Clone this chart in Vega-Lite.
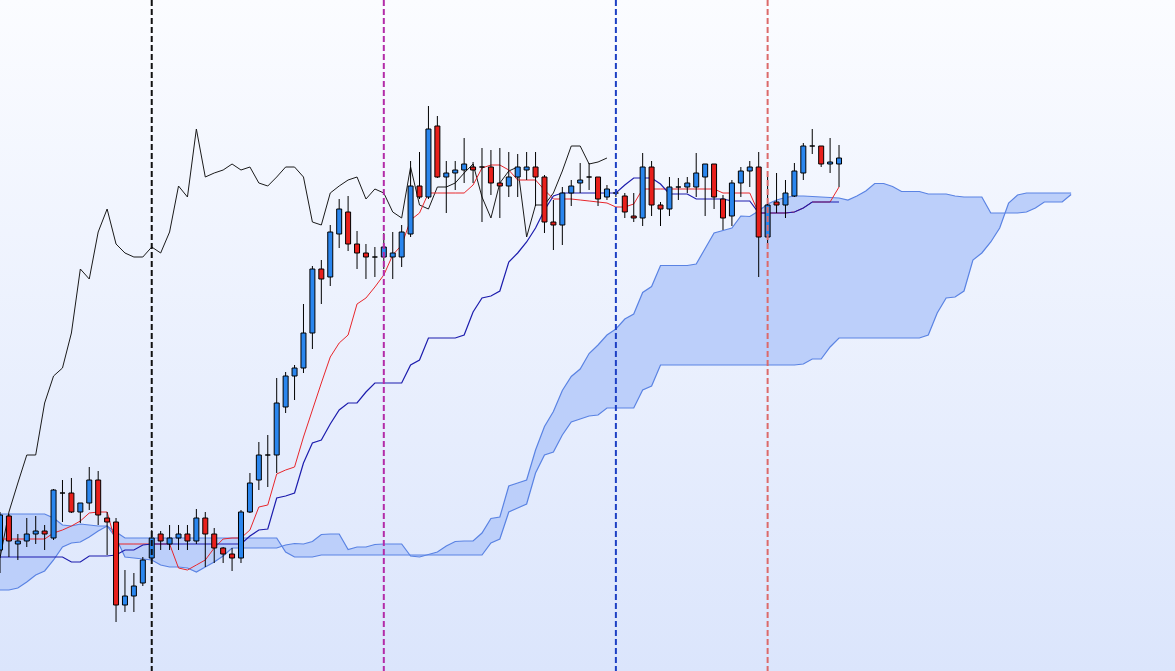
{
  "$schema": "https://vega.github.io/schema/vega-lite/v6.json",
  "width": 1175,
  "height": 671,
  "padding": 0,
  "autosize": {"type": "fit", "contains": "padding"},
  "config": {"view": {"stroke": null}},
  "datasets": {
    "candles": [
      {"i":0,"o":121,"h":159,"l":98,"c":156,"t":132,"k":114},
      {"i":1,"o":155,"h":157,"l":114,"c":130,"t":132,"k":114},
      {"i":2,"o":127,"h":137,"l":111,"c":130,"t":132,"k":114},
      {"i":3,"o":130,"h":153,"l":124,"c":137,"t":132,"k":114},
      {"i":4,"o":137,"h":155,"l":127,"c":140,"t":132,"k":114},
      {"i":5,"o":140,"h":146,"l":121,"c":137,"t":132,"k":114},
      {"i":6,"o":133,"h":182,"l":131,"c":181,"t":138,"k":114},
      {"i":7,"o":178,"h":191,"l":149,"c":178,"t":141,"k":114},
      {"i":8,"o":178,"h":193,"l":158,"c":159,"t":145,"k":109},
      {"i":9,"o":159,"h":168,"l":148,"c":168,"t":150,"k":109},
      {"i":10,"o":168,"h":204,"l":161,"c":191,"t":158,"k":115},
      {"i":11,"o":191,"h":200,"l":146,"c":156,"t":159,"k":115},
      {"i":12,"o":153,"h":159,"l":116,"c":149,"t":159,"k":115},
      {"i":13,"o":149,"h":153,"l":49,"c":66,"t":127,"k":116},
      {"i":14,"o":66,"h":101,"l":59,"c":75,"t":127,"k":121},
      {"i":15,"o":75,"h":98,"l":59,"c":85,"t":127,"k":121},
      {"i":16,"o":88,"h":114,"l":85,"c":111,"t":127,"k":126},
      {"i":17,"o":113,"h":141,"l":111,"c":133,"t":127,"k":127},
      {"i":18,"o":137,"h":140,"l":121,"c":130,"t":127,"k":127},
      {"i":19,"o":127,"h":146,"l":121,"c":133,"t":127,"k":127},
      {"i":20,"o":133,"h":146,"l":121,"c":137,"t":103,"k":127},
      {"i":21,"o":137,"h":146,"l":121,"c":130,"t":101,"k":127},
      {"i":22,"o":130,"h":162,"l":127,"c":153,"t":106,"k":127},
      {"i":23,"o":153,"h":159,"l":104,"c":137,"t":111,"k":127},
      {"i":24,"o":137,"h":143,"l":108,"c":123,"t":123,"k":127},
      {"i":25,"o":123,"h":124,"l":108,"c":117,"t":132,"k":127},
      {"i":26,"o":117,"h":123,"l":100,"c":113,"t":133,"k":127},
      {"i":27,"o":113,"h":161,"l":108,"c":159,"t":133,"k":127},
      {"i":28,"o":159,"h":198,"l":158,"c":188,"t":141,"k":135},
      {"i":29,"o":191,"h":229,"l":181,"c":216,"t":164,"k":141},
      {"i":30,"o":216,"h":236,"l":184,"c":216,"t":166,"k":142},
      {"i":31,"o":216,"h":293,"l":198,"c":268,"t":197,"k":173},
      {"i":32,"o":264,"h":299,"l":258,"c":295,"t":201,"k":175},
      {"i":33,"o":295,"h":306,"l":271,"c":303,"t":204,"k":178},
      {"i":34,"o":303,"h":367,"l":298,"c":338,"t":234,"k":208},
      {"i":35,"o":338,"h":405,"l":322,"c":402,"t":261,"k":228},
      {"i":36,"o":402,"h":411,"l":367,"c":392,"t":288,"k":231},
      {"i":37,"o":394,"h":446,"l":385,"c":439,"t":314,"k":247},
      {"i":38,"o":437,"h":472,"l":423,"c":462,"t":328,"k":261},
      {"i":39,"o":459,"h":475,"l":420,"c":427,"t":336,"k":268},
      {"i":40,"o":427,"h":440,"l":402,"c":418,"t":367,"k":268},
      {"i":41,"o":418,"h":427,"l":392,"c":414,"t":373,"k":279},
      {"i":42,"o":414,"h":424,"l":394,"c":414,"t":384,"k":288},
      {"i":43,"o":414,"h":438,"l":402,"c":424,"t":396,"k":288},
      {"i":44,"o":414,"h":439,"l":392,"c":418,"t":416,"k":288},
      {"i":45,"o":414,"h":446,"l":404,"c":439,"t":426,"k":288},
      {"i":46,"o":437,"h":510,"l":434,"c":485,"t":451,"k":306},
      {"i":47,"o":485,"h":519,"l":472,"c":474,"t":458,"k":311},
      {"i":48,"o":474,"h":565,"l":472,"c":542,"t":478,"k":333},
      {"i":49,"o":545,"h":555,"l":493,"c":494,"t":478,"k":333},
      {"i":50,"o":494,"h":510,"l":458,"c":498,"t":478,"k":333},
      {"i":51,"o":498,"h":510,"l":481,"c":501,"t":478,"k":333},
      {"i":52,"o":501,"h":533,"l":488,"c":507,"t":478,"k":336},
      {"i":53,"o":504,"h":509,"l":488,"c":501,"t":486,"k":359},
      {"i":54,"o":504,"h":523,"l":449,"c":504,"t":503,"k":373},
      {"i":55,"o":504,"h":521,"l":476,"c":488,"t":506,"k":375},
      {"i":56,"o":488,"h":523,"l":453,"c":485,"t":506,"k":380},
      {"i":57,"o":485,"h":519,"l":474,"c":494,"t":501,"k":409},
      {"i":58,"o":494,"h":517,"l":474,"c":504,"t":491,"k":418},
      {"i":59,"o":501,"h":519,"l":491,"c":504,"t":491,"k":429},
      {"i":60,"o":504,"h":519,"l":465,"c":494,"t":491,"k":443},
      {"i":61,"o":494,"h":496,"l":438,"c":449,"t":481,"k":461},
      {"i":62,"o":449,"h":471,"l":421,"c":446,"t":472,"k":475},
      {"i":63,"o":446,"h":484,"l":426,"c":478,"t":472,"k":478},
      {"i":64,"o":478,"h":491,"l":465,"c":485,"t":472,"k":478},
      {"i":65,"o":488,"h":508,"l":478,"c":491,"t":471,"k":478},
      {"i":66,"o":494,"h":508,"l":481,"c":494,"t":470,"k":478},
      {"i":67,"o":494,"h":494,"l":465,"c":472,"t":469,"k":478},
      {"i":68,"o":474,"h":486,"l":471,"c":482,"t":468,"k":478},
      {"i":69,"o":478,"h":482,"l":474,"c":478,"t":464,"k":478},
      {"i":70,"o":475,"h":478,"l":453,"c":459,"t":464,"k":486},
      {"i":71,"o":455,"h":478,"l":449,"c":453,"t":467,"k":493},
      {"i":72,"o":453,"h":518,"l":445,"c":504,"t":482,"k":493},
      {"i":73,"o":504,"h":510,"l":455,"c":466,"t":482,"k":493},
      {"i":74,"o":466,"h":469,"l":445,"c":462,"t":482,"k":487},
      {"i":75,"o":462,"h":494,"l":455,"c":484,"t":482,"k":477},
      {"i":76,"o":484,"h":493,"l":471,"c":484,"t":482,"k":477},
      {"i":77,"o":484,"h":494,"l":478,"c":488,"t":482,"k":477},
      {"i":78,"o":484,"h":518,"l":474,"c":498,"t":482,"k":472},
      {"i":79,"o":494,"h":507,"l":455,"c":507,"t":482,"k":472},
      {"i":80,"o":507,"h":507,"l":462,"c":474,"t":482,"k":472},
      {"i":81,"o":472,"h":476,"l":441,"c":453,"t":478,"k":472},
      {"i":82,"o":455,"h":491,"l":445,"c":488,"t":478,"k":470},
      {"i":83,"o":488,"h":504,"l":474,"c":500,"t":478,"k":470},
      {"i":84,"o":500,"h":510,"l":484,"c":504,"t":478,"k":470},
      {"i":85,"o":504,"h":519,"l":394,"c":434,"t":458,"k":458},
      {"i":86,"o":434,"h":494,"l":426,"c":466,"t":458,"k":458},
      {"i":87,"o":469,"h":498,"l":458,"c":466,"t":458,"k":458},
      {"i":88,"o":466,"h":491,"l":453,"c":478,"t":458,"k":458},
      {"i":89,"o":475,"h":508,"l":474,"c":500,"t":459,"k":459},
      {"i":90,"o":498,"h":528,"l":491,"c":525,"t":463,"k":463},
      {"i":91,"o":525,"h":542,"l":517,"c":525,"t":469,"k":469},
      {"i":92,"o":525,"h":525,"l":504,"c":507,"t":469,"k":469},
      {"i":93,"o":507,"h":533,"l":498,"c":509,"t":469,"k":469},
      {"i":94,"o":507,"h":526,"l":484,"c":513,"t":484,"k":469}
    ],
    "chikou": [
      {"i":0,"v":113},{"i":1,"v":159},{"i":2,"v":188},{"i":3,"v":216},{"i":4,"v":216},
      {"i":5,"v":268},{"i":6,"v":295},{"i":7,"v":303},{"i":8,"v":338},{"i":9,"v":402},
      {"i":10,"v":392},{"i":11,"v":439},{"i":12,"v":462},{"i":13,"v":427},{"i":14,"v":418},
      {"i":15,"v":414},{"i":16,"v":414},{"i":17,"v":424},{"i":18,"v":418},{"i":19,"v":439},
      {"i":20,"v":485},{"i":21,"v":474},{"i":22,"v":542},{"i":23,"v":494},{"i":24,"v":498},
      {"i":25,"v":501},{"i":26,"v":507},{"i":27,"v":501},{"i":28,"v":504},{"i":29,"v":488},
      {"i":30,"v":485},{"i":31,"v":494},{"i":32,"v":504},{"i":33,"v":504},{"i":34,"v":494},
      {"i":35,"v":449},{"i":36,"v":446},{"i":37,"v":478},{"i":38,"v":485},{"i":39,"v":491},
      {"i":40,"v":494},{"i":41,"v":472},{"i":42,"v":482},{"i":43,"v":478},{"i":44,"v":459},
      {"i":45,"v":453},{"i":46,"v":504},{"i":47,"v":466},{"i":48,"v":462},{"i":49,"v":484},
      {"i":50,"v":484},{"i":51,"v":488},{"i":52,"v":498},{"i":53,"v":507},{"i":54,"v":474},
      {"i":55,"v":453},{"i":56,"v":488},{"i":57,"v":500},{"i":58,"v":504},{"i":59,"v":434},
      {"i":60,"v":466},{"i":61,"v":466},{"i":62,"v":478},{"i":63,"v":500},{"i":64,"v":525},
      {"i":65,"v":525},{"i":66,"v":507},{"i":67,"v":509},{"i":68,"v":513}
    ],
    "cloud": [
      {"i":0,"a":81,"b":157},{"i":1,"a":81,"b":157},{"i":2,"a":83,"b":157},{"i":3,"a":89,"b":157},
      {"i":4,"a":96,"b":157},{"i":5,"a":100,"b":157},{"i":6,"a":111,"b":153},{"i":7,"a":124,"b":146},
      {"i":8,"a":128,"b":145},{"i":9,"a":129,"b":147},{"i":10,"a":134,"b":146},{"i":11,"a":140,"b":145},
      {"i":12,"a":145,"b":145},{"i":13,"a":133,"b":139},{"i":14,"a":114,"b":133},{"i":15,"a":113,"b":133},
      {"i":16,"a":112,"b":133},{"i":17,"a":111,"b":133},{"i":18,"a":106,"b":133},{"i":19,"a":104,"b":133},
      {"i":20,"a":104,"b":133},{"i":21,"a":103,"b":133},{"i":22,"a":99,"b":133},{"i":23,"a":104,"b":133},
      {"i":24,"a":109,"b":133},{"i":25,"a":115,"b":133},{"i":26,"a":123,"b":133},{"i":27,"a":123,"b":133},
      {"i":28,"a":123,"b":133},{"i":29,"a":123,"b":133},{"i":30,"a":123,"b":133},{"i":31,"a":123,"b":133},
      {"i":32,"a":126,"b":119},{"i":33,"a":127.5,"b":114},{"i":34,"a":127,"b":114},{"i":35,"a":129.5,"b":114},
      {"i":36,"a":136.5,"b":116},{"i":37,"a":137,"b":116},{"i":38,"a":137,"b":116},{"i":39,"a":121.5,"b":116},
      {"i":40,"a":124,"b":116},{"i":41,"a":124,"b":116},{"i":42,"a":126.5,"b":116},{"i":43,"a":127,"b":116},
      {"i":44,"a":127,"b":116},{"i":45,"a":127,"b":116},{"i":46,"a":115,"b":116},{"i":47,"a":114,"b":116},
      {"i":48,"a":116.5,"b":116},{"i":49,"a":119,"b":116},{"i":50,"a":125,"b":116},{"i":51,"a":129.5,"b":116},
      {"i":52,"a":130,"b":116},{"i":53,"a":130,"b":116},{"i":54,"a":138,"b":116},{"i":55,"a":152.5,"b":128},
      {"i":56,"a":154,"b":132},{"i":57,"a":185,"b":159},{"i":58,"a":188,"b":163},{"i":59,"a":191,"b":167},
      {"i":60,"a":221,"b":198},{"i":61,"a":244.5,"b":216},{"i":62,"a":259.5,"b":219},{"i":63,"a":280.5,"b":236},
      {"i":64,"a":294.5,"b":249},{"i":65,"a":302,"b":252},{"i":66,"a":317.5,"b":255},{"i":67,"a":326,"b":256},
      {"i":68,"a":336,"b":263},{"i":69,"a":342,"b":263},{"i":70,"a":352,"b":263},{"i":71,"a":357,"b":263},
      {"i":72,"a":378.5,"b":281},{"i":73,"a":384.5,"b":285},{"i":74,"a":405.5,"b":306},{"i":75,"a":405.5,"b":306},
      {"i":76,"a":405.5,"b":306},{"i":77,"a":405.5,"b":306},{"i":78,"a":407,"b":306},{"i":79,"a":422.5,"b":306},
      {"i":80,"a":438,"b":306},{"i":81,"a":440.5,"b":306},{"i":82,"a":443,"b":306},{"i":83,"a":455,"b":306},
      {"i":84,"a":454.5,"b":306},{"i":85,"a":460,"b":306},{"i":86,"a":467,"b":306},{"i":87,"a":471,"b":306},
      {"i":88,"a":473.5,"b":306},{"i":89,"a":475,"b":306},{"i":90,"a":475,"b":307},{"i":91,"a":474.5,"b":312},
      {"i":92,"a":474,"b":312},{"i":93,"a":473.5,"b":324},{"i":94,"a":473,"b":333},{"i":95,"a":471,"b":333},
      {"i":96,"a":475,"b":333},{"i":97,"a":480,"b":333},{"i":98,"a":487.5,"b":333},{"i":99,"a":487.5,"b":333},
      {"i":100,"a":484.5,"b":333},{"i":101,"a":479.5,"b":333},{"i":102,"a":479.5,"b":333},{"i":103,"a":479.5,"b":333},
      {"i":104,"a":477,"b":336},{"i":105,"a":477,"b":358},{"i":106,"a":477,"b":373},{"i":107,"a":475,"b":374},
      {"i":108,"a":474,"b":380},{"i":109,"a":474,"b":411},{"i":110,"a":474,"b":418},{"i":111,"a":458,"b":429},
      {"i":112,"a":458,"b":443},{"i":113,"a":458,"b":468},{"i":114,"a":458,"b":476},{"i":115,"a":459,"b":478},
      {"i":116,"a":463,"b":478},{"i":117,"a":469,"b":478},{"i":118,"a":469,"b":478},{"i":119,"a":469,"b":478},
      {"i":120,"a":476.5,"b":478}
    ],
    "events": [
      {"i":17,"event":"E1"},
      {"i":43,"event":"E2"},
      {"i":69,"event":"E3"},
      {"i":86,"event":"E4"}
    ]
  },
  "layer": [
    {
      "data": {"values": [{}]},
      "mark": {"type": "rect", "color": {"gradient": "linear", "x1": 0, "y1": 0, "x2": 0, "y2": 1, "stops": [{"offset": 0, "color": "#fbfcff"}, {"offset": 1, "color": "#dbe5fc"}]}},
      "encoding": {}
    },
    {
      "data": {"name": "cloud"},
      "mark": {"type": "area", "color": "#bccffa", "opacity": 1, "clip": true},
      "encoding": {
        "x": {"field": "i", "type": "quantitative", "scale": {"domain": [0, 131.64], "nice": false, "zero": false, "padding": 0}, "axis": null},
        "y": {"field": "a", "type": "quantitative", "scale": {"domain": [0, 671], "nice": false, "zero": false}, "axis": null},
        "y2": {"field": "b"}
      }
    },
    {
      "data": {"name": "cloud"},
      "mark": {"type": "line", "color": "#5a83e3", "strokeWidth": 1.2, "clip": true},
      "encoding": {
        "x": {"field": "i", "type": "quantitative", "scale": {"domain": [0, 131.64], "nice": false, "zero": false, "padding": 0}, "axis": null},
        "y": {"field": "a", "type": "quantitative", "scale": {"domain": [0, 671], "nice": false, "zero": false}, "axis": null}
      }
    },
    {
      "data": {"name": "cloud"},
      "mark": {"type": "line", "color": "#5a83e3", "strokeWidth": 1.2, "clip": true},
      "encoding": {
        "x": {"field": "i", "type": "quantitative", "scale": {"domain": [0, 131.64], "nice": false, "zero": false, "padding": 0}, "axis": null},
        "y": {"field": "b", "type": "quantitative", "scale": {"domain": [0, 671], "nice": false, "zero": false}, "axis": null}
      }
    },
    {
      "data": {"name": "chikou"},
      "mark": {"type": "line", "color": "#1a1a1a", "strokeWidth": 1, "clip": true},
      "encoding": {
        "x": {"field": "i", "type": "quantitative", "scale": {"domain": [0, 131.64], "nice": false, "zero": false, "padding": 0}, "axis": null},
        "y": {"field": "v", "type": "quantitative", "scale": {"domain": [0, 671], "nice": false, "zero": false}, "axis": null}
      }
    },
    {
      "data": {"name": "candles"},
      "mark": {"type": "line", "color": "#e8262b", "strokeWidth": 1, "clip": true},
      "encoding": {
        "x": {"field": "i", "type": "quantitative", "scale": {"domain": [0, 131.64], "nice": false, "zero": false, "padding": 0}, "axis": null},
        "y": {"field": "t", "type": "quantitative", "scale": {"domain": [0, 671], "nice": false, "zero": false}, "axis": null}
      }
    },
    {
      "data": {"name": "candles"},
      "mark": {"type": "line", "color": "#1c1cad", "strokeWidth": 1.2, "clip": true},
      "encoding": {
        "x": {"field": "i", "type": "quantitative", "scale": {"domain": [0, 131.64], "nice": false, "zero": false, "padding": 0}, "axis": null},
        "y": {"field": "k", "type": "quantitative", "scale": {"domain": [0, 671], "nice": false, "zero": false}, "axis": null}
      }
    },
    {
      "data": {"name": "candles"},
      "mark": {"type": "rule", "color": "#000000", "strokeWidth": 1, "clip": true},
      "encoding": {
        "x": {"field": "i", "type": "quantitative", "scale": {"domain": [0, 131.64], "nice": false, "zero": false, "padding": 0}, "axis": null},
        "y": {"field": "h", "type": "quantitative", "scale": {"domain": [0, 671], "nice": false, "zero": false}, "axis": null},
        "y2": {"field": "l"}
      }
    },
    {
      "data": {"name": "candles"},
      "mark": {"type": "bar", "size": 5, "stroke": "#000000", "strokeWidth": 1, "clip": true},
      "encoding": {
        "x": {"field": "i", "type": "quantitative", "scale": {"domain": [0, 131.64], "nice": false, "zero": false, "padding": 0}, "axis": null},
        "y": {"field": "o", "type": "quantitative", "scale": {"domain": [0, 671], "nice": false, "zero": false}, "axis": null},
        "y2": {"field": "c"},
        "color": {"condition": {"test": "datum.c >= datum.o", "value": "#2a86ee"}, "value": "#e8201c"}
      }
    },
    {
      "data": {"name": "events"},
      "mark": {"type": "rule", "strokeWidth": 2, "strokeDash": [6, 3], "clip": true},
      "encoding": {
        "x": {"field": "i", "type": "quantitative", "scale": {"domain": [0, 131.64], "nice": false, "zero": false, "padding": 0}, "axis": null},
        "color": {"field": "event", "type": "nominal", "scale": {"domain": ["E1", "E2", "E3", "E4"], "range": ["#111111", "#b32ca8", "#1d40c4", "#dc6a6a"]}, "legend": null}
      }
    }
  ]
}
